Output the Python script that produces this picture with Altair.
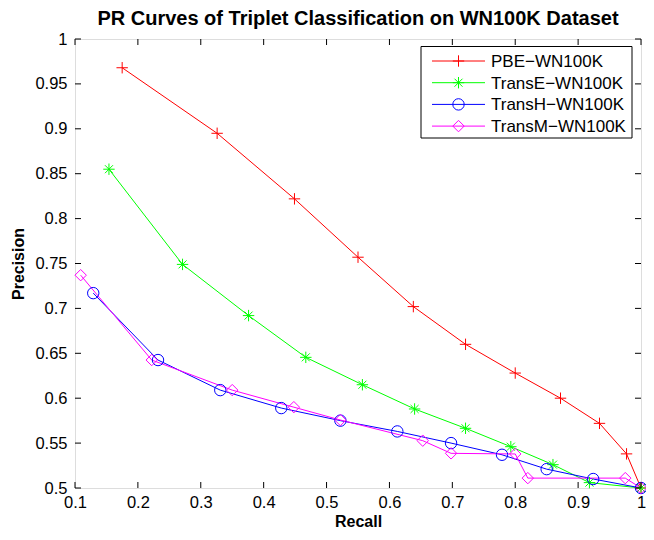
import altair as alt
import pandas as pd

SERIES = ["PBE−WN100K", "TransE−WN100K", "TransH−WN100K", "TransM−WN100K"]
COLORS = ["#FF0000", "#00FF00", "#0000FF", "#FF00FF"]

PBE_R = [0.175, 0.326, 0.449, 0.550, 0.638, 0.721, 0.800, 0.872, 0.934, 0.977, 1.0]
PBE_P = [0.968, 0.895, 0.822, 0.757, 0.702, 0.660, 0.628, 0.600, 0.572, 0.538, 0.5]

TRANSE_R = [0.154, 0.271, 0.376, 0.467, 0.557, 0.640, 0.721, 0.793, 0.860, 0.918, 1.0]
TRANSE_P = [0.855, 0.749, 0.692, 0.6455, 0.615, 0.588, 0.5665, 0.546, 0.526, 0.506, 0.5]

TRANSH_R = [0.129, 0.232, 0.331, 0.428, 0.522, 0.6125, 0.698, 0.779, 0.850, 0.924, 1.0]
TRANSH_P = [0.717, 0.6425, 0.609, 0.589, 0.575, 0.563, 0.550, 0.537, 0.521, 0.510, 0.5]

TRANSM_R = [0.109, 0.222, 0.350, 0.448, 0.522, 0.653, 0.698, 0.800, 0.820, 0.975, 1.0]
TRANSM_P = [0.737, 0.6425, 0.609, 0.590, 0.5757, 0.5527, 0.5386, 0.5379, 0.511, 0.511, 0.5]

X_TICKS = [0.1, 0.2, 0.3, 0.4, 0.5, 0.6, 0.7, 0.8, 0.9, 1.0]
Y_TICKS = [0.5, 0.55, 0.6, 0.65, 0.7, 0.75, 0.8, 0.85, 0.9, 0.95, 1.0]

# marker shapes (Matlab style: +, *, o, diamond)
SHAPES = [
    "M-1,0H1M0,-1V1",
    "M-1,0H1M0,-1V1M-0.7,-0.7L0.7,0.7M-0.7,0.7L0.7,-0.7",
    "circle",
    "diamond",
]

W, H = 566, 449
FONT = "Liberation Sans"

rows = []
for name, rs, ps in zip(SERIES, [PBE_R, TRANSE_R, TRANSH_R, TRANSM_R],
                        [PBE_P, TRANSE_P, TRANSH_P, TRANSM_P]):
    for i, (r, p) in enumerate(zip(rs, ps)):
        rows.append({"series": name, "recall": r, "precision": p, "idx": i})
df = pd.DataFrame(rows)

xs = alt.Scale(domain=[0.1, 1.0], nice=False, zero=False)
ys = alt.Scale(domain=[0.5, 1.0], nice=False, zero=False)
xaxis = alt.Axis(values=X_TICKS, format="~g", title="Recall", grid=False, domain=False,
                 ticks=False, labelFontSize=16.5, labelFont=FONT, labelColor="black",
                 labelPadding=6, titleFontSize=16, titleFont=FONT, titleFontWeight="bold",
                 titleColor="black", titlePadding=3, labelFlush=False)
yaxis = alt.Axis(values=Y_TICKS, format="~g", title="Precision", grid=False, domain=False,
                 ticks=False, labelFontSize=16.5, labelFont=FONT, labelColor="black",
                 labelPadding=8, titleFontSize=16, titleFont=FONT, titleFontWeight="bold",
                 titleColor="black", titlePadding=8, labelFlush=False)
color = alt.Color("series:N", scale=alt.Scale(domain=SERIES, range=COLORS), legend=None)
shape = alt.Shape("series:N", scale=alt.Scale(domain=SERIES, range=SHAPES), legend=None)

base = alt.Chart(df)
lines = base.mark_line(strokeWidth=1, clip=False).encode(
    x=alt.X("recall:Q", scale=xs, axis=xaxis),
    y=alt.Y("precision:Q", scale=ys, axis=yaxis),
    color=color,
    order=alt.Order("idx:Q"),
)
points = base.mark_point(filled=False, size=130, strokeWidth=1, opacity=1, clip=False).encode(
    x=alt.X("recall:Q", scale=xs, axis=xaxis),
    y=alt.Y("precision:Q", scale=ys, axis=yaxis),
    color=color,
    shape=shape,
)

xt = pd.DataFrame({"v": X_TICKS})
yt = pd.DataFrame({"v": Y_TICKS})
tick_b = alt.Chart(xt).mark_rule(color="black", strokeWidth=1).encode(
    x=alt.X("v:Q", scale=xs, axis=xaxis), y=alt.value(H), y2=alt.value(H - 6))
tick_t = alt.Chart(xt).mark_rule(color="black", strokeWidth=1).encode(
    x=alt.X("v:Q", scale=xs, axis=xaxis), y=alt.value(0), y2=alt.value(6))
tick_l = alt.Chart(yt).mark_rule(color="black", strokeWidth=1).encode(
    y=alt.Y("v:Q", scale=ys, axis=yaxis), x=alt.value(0), x2=alt.value(6))
tick_r = alt.Chart(yt).mark_rule(color="black", strokeWidth=1).encode(
    y=alt.Y("v:Q", scale=ys, axis=yaxis), x=alt.value(W), x2=alt.value(W - 6))

# legend (Matlab style box, drawn inside the plot)
leg_df = pd.DataFrame({"series": SERIES})
LX0, LX1, LY0, LY1 = W - 220, W - 9, 7.5, 99
box = alt.Chart(pd.DataFrame({"series": [SERIES[0]]})).mark_rect(
    fill="white", stroke="black", strokeWidth=1).encode(
    x=alt.value(LX0), x2=alt.value(LX1), y=alt.value(LY0), y2=alt.value(LY1))
leg_layers = [box]
for i, name in enumerate(SERIES):
    yy = 22 + 21.7 * i
    sub = alt.Chart(leg_df).transform_filter(alt.datum.series == name)
    leg_layers.append(sub.mark_rule(strokeWidth=1).encode(
        x=alt.value(W - 209), x2=alt.value(W - 156), y=alt.value(yy), color=color))
    leg_layers.append(sub.mark_point(filled=False, size=130, strokeWidth=1, opacity=1).encode(
        x=alt.value(W - 182.5), y=alt.value(yy), color=color, shape=shape))
    leg_layers.append(sub.mark_text(align="left", baseline="middle", fontSize=17,
                                    font=FONT, color="black").encode(
        x=alt.value(W - 150), y=alt.value(yy + 1), text="series:N"))

chart = alt.layer(lines, points, tick_b, tick_t, tick_l, tick_r, *leg_layers).properties(
    width=W, height=H,
    title=alt.TitleParams("PR Curves of Triplet Classification on WN100K Dataset",
                          fontSize=20, font=FONT, fontWeight="bold", color="black",
                          anchor="middle", offset=2),
    autosize=alt.AutoSizeParams(type="none"),
    padding={"left": 67, "top": 31, "right": 5, "bottom": 42},
).configure_view(stroke="black", strokeWidth=1).configure(background="white")

chart.save("out.html", embed_options={"renderer": "svg", "actions": False})
